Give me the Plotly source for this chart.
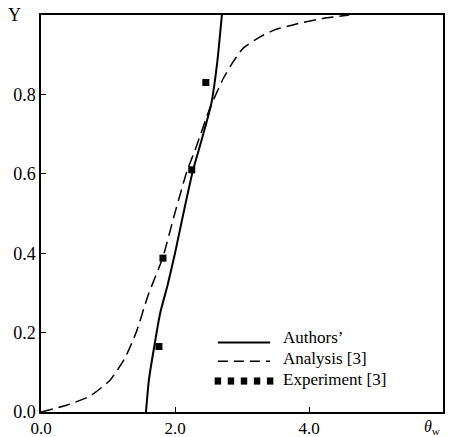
import plotly.graph_objects as go

# Authors' analysis (solid)
authors_theta = [1.567, 1.61, 1.69, 1.78, 1.89, 2.00, 2.10, 2.27, 2.38, 2.54, 2.63, 2.70]
authors_y     = [0.0,   0.08, 0.165, 0.25, 0.32, 0.40, 0.48, 0.61, 0.675, 0.775, 0.88, 1.0]

# Analysis [3] (dashed)
analysis_theta = [0.0, 0.39, 0.73, 1.03, 1.25, 1.42, 1.60, 1.82, 1.98, 2.18, 2.30, 2.52,
                  2.72, 2.87, 3.01, 3.27, 3.49, 3.87, 4.27, 4.6]
analysis_y     = [0.0, 0.0175, 0.04, 0.08, 0.135, 0.2, 0.295, 0.39, 0.49, 0.6075, 0.66, 0.765,
                  0.84, 0.8825, 0.915, 0.945, 0.9625, 0.98, 0.993, 1.0]

# Experiment [3]
exp_theta = [1.76, 1.82, 2.25, 2.46]
exp_y     = [0.165, 0.3875, 0.61, 0.83]

x_ticks = [0, 2, 4]
x_ticklabels = ["0.0", "2.0", "4.0"]
y_ticks = [0, 0.2, 0.4, 0.6, 0.8]
y_ticklabels = ["0.0", "0.2", "0.4", "0.6", "0.8"]

legend_labels = ["Authors\u2019", "Analysis [3]", "Experiment [3]"]

FONT = "Liberation Serif"

fig = go.Figure()
fig.add_trace(go.Scatter(x=authors_theta, y=authors_y, mode="lines",
                         line=dict(color="black", width=2, shape="spline", smoothing=0.5),
                         showlegend=False))
fig.add_trace(go.Scatter(x=analysis_theta, y=analysis_y, mode="lines",
                         line=dict(color="black", width=1.5, dash="12px,6px", shape="spline", smoothing=0.5),
                         showlegend=False))
fig.add_trace(go.Scatter(x=exp_theta, y=exp_y, mode="markers",
                         marker=dict(symbol="square", size=7, color="black"),
                         showlegend=False))

# custom legend (paper coordinates)
lx0, lx1 = 0.44, 0.57
rows = [0.175, 0.128, 0.078]
fig.add_shape(type="line", xref="paper", yref="paper", x0=lx0, x1=lx1, y0=rows[0], y1=rows[0],
              line=dict(color="black", width=2))
fig.add_shape(type="line", xref="paper", yref="paper", x0=lx0, x1=lx1, y0=rows[1], y1=rows[1],
              line=dict(color="black", width=1.5, dash="10px,6px"))
for i in range(5):
    cx = lx0 + i * (lx1 - lx0) / 4
    fig.add_shape(type="rect", xref="paper", yref="paper",
                  x0=cx - 0.008, x1=cx + 0.008, y0=rows[2] - 0.009, y1=rows[2] + 0.009,
                  fillcolor="black", line=dict(width=0))
text_y = [0.188, 0.135, 0.082]
for lab, ty in zip(legend_labels, text_y):
    fig.add_annotation(text=lab, xref="paper", yref="paper", x=0.60, y=ty,
                       xanchor="left", yanchor="middle", showarrow=False, borderpad=0,
                       font=dict(family=FONT, size=17, color="black"))

fig.add_annotation(text="Y", xref="paper", yref="paper", x=-0.065, y=1.0,
                   xanchor="center", yanchor="middle", showarrow=False,
                   font=dict(family=FONT, size=18, color="black"))
fig.add_annotation(text="<i>\u03b8</i><sub>w</sub>", xref="paper", yref="paper", x=0.975, y=-0.04,
                   xanchor="center", yanchor="middle", showarrow=False,
                   font=dict(family=FONT, size=16, color="black"))

fig.update_xaxes(range=[0, 6], tickvals=x_ticks, ticktext=x_ticklabels,
                 ticks="inside", ticklen=5, tickcolor="black", automargin=False,
                 showline=True, linecolor="black", linewidth=1.5, mirror=True,
                 showgrid=False, zeroline=False,
                 tickfont=dict(family=FONT, size=17, color="black"))
fig.update_yaxes(range=[0, 1.0], tickvals=y_ticks, ticktext=y_ticklabels,
                 ticks="inside", ticklen=5, tickcolor="black", automargin=False,
                 showline=True, linecolor="black", linewidth=1.5, mirror=True,
                 showgrid=False, zeroline=False,
                 tickfont=dict(family=FONT, size=18, color="black"))

fig.update_layout(width=449, height=437,
                  margin=dict(l=41, r=6, t=15, b=25),
                  paper_bgcolor="white", plot_bgcolor="white",
                  showlegend=False)

fig.write_html("out.html")
